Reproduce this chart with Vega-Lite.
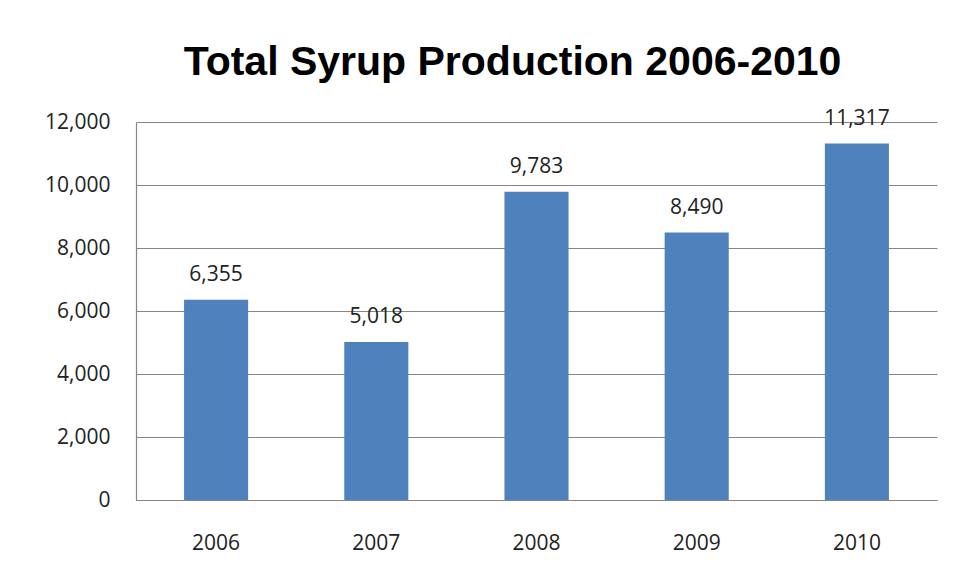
{
  "$schema": "https://vega.github.io/schema/vega-lite/v6.json",
  "width": 801,
  "height": 378,
  "autosize": {"type": "none"},
  "padding": {"left": 136, "top": 122, "right": 16, "bottom": 83},
  "background": "white",
  "title": {
    "text": "Total Syrup Production 2006-2010",
    "font": "Liberation Sans",
    "fontSize": 41,
    "fontWeight": "bold",
    "color": "#000000",
    "anchor": "middle",
    "dx": -24,
    "offset": 24
  },
  "data": {
    "values": [
      {"year": "2006", "production": 6355},
      {"year": "2007", "production": 5018},
      {"year": "2008", "production": 9783},
      {"year": "2009", "production": 8490},
      {"year": "2010", "production": 11317}
    ]
  },
  "encoding": {
    "x": {
      "field": "year",
      "type": "nominal",
      "scale": {"paddingInner": 0.6, "paddingOuter": 0.3},
      "axis": {
        "title": null,
        "labelAngle": 0,
        "ticks": false,
        "labelPadding": 32,
        "labelFont": "Open Sans",
        "labelFontSize": 21,
        "labelColor": "#222222",
        "domainColor": "#868686",
        "domainWidth": 1.2,
        "grid": false
      }
    },
    "y": {
      "field": "production",
      "type": "quantitative",
      "scale": {"domain": [0, 12000], "nice": false},
      "axis": {
        "title": null,
        "values": [0, 2000, 4000, 6000, 8000, 10000, 12000],
        "format": ",.0f",
        "ticks": false,
        "labelPadding": 26,
        "labelFont": "Open Sans",
        "labelFontSize": 21,
        "labelColor": "#222222",
        "domainColor": "#868686",
        "domainWidth": 1.2,
        "gridColor": "#868686",
        "gridWidth": 1.2
      }
    }
  },
  "layer": [
    {"mark": {"type": "bar", "color": "#4F81BD"}},
    {
      "mark": {
        "type": "text",
        "baseline": "bottom",
        "dy": -15,
        "font": "Open Sans",
        "fontSize": 21,
        "color": "#222222"
      },
      "encoding": {
        "text": {"field": "production", "type": "quantitative", "format": ",.0f"}
      }
    }
  ],
  "config": {
    "view": {"stroke": null}
  }
}
